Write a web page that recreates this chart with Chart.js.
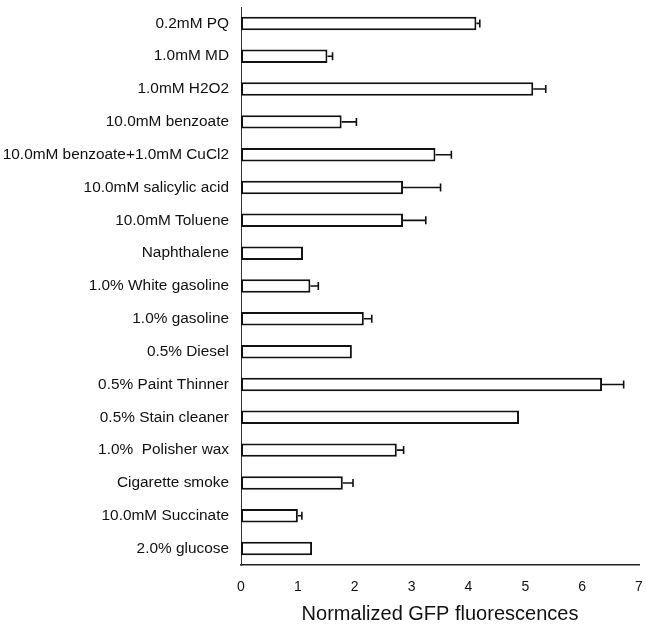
<!DOCTYPE html>
<html>
<head>
<meta charset="utf-8">
<script src="https://cdn.jsdelivr.net/npm/chart.js@4/dist/chart.umd.min.js"></script>
<style>
  html, body { margin: 0; padding: 0; background: #fff; }
  #wrap { width: 646px; height: 626px; }
</style>
</head>
<body>
<div id="wrap"><canvas id="chart" width="646" height="626"></canvas></div>
<script>
// categories, top to bottom
const labels = [
  '0.2mM PQ', '1.0mM MD', '1.0mM H2O2', '10.0mM benzoate',
  '10.0mM benzoate+1.0mM CuCl2', '10.0mM salicylic acid', '10.0mM Toluene',
  'Naphthalene', '1.0% White gasoline', '1.0% gasoline', '0.5% Diesel',
  '0.5% Paint Thinner', '0.5% Stain cleaner', '1.0%  Polisher wax',
  'Cigarette smoke', '10.0mM Succinate', '2.0% glucose'
];
const values = [4.14, 1.52, 5.14, 1.77, 3.42, 2.85, 2.85, 1.09, 1.22, 2.16, 1.95, 6.35, 4.89, 2.74, 1.79, 1.00, 1.25];
const errors = [0.06, 0.09, 0.22, 0.26, 0.28, 0.66, 0.40, 0.01, 0.14, 0.14, 0.02, 0.38, 0.02, 0.12, 0.18, 0.07, 0.02];
const xTicks = [0, 1, 2, 3, 4, 5, 6, 7];

// error bars: line from bar end to value+err with a cap
const errorBars = {
  id: 'errorBars',
  afterDatasetsDraw(chart) {
    const ctx = chart.ctx;
    const x = chart.scales.x;
    const meta = chart.getDatasetMeta(0);
    ctx.save();
    ctx.strokeStyle = '#111';
    ctx.lineWidth = 1.6;
    meta.data.forEach((bar, i) => {
      if (errors[i] < 0.03) return;
      const x0 = x.getPixelForValue(values[i]);
      const x1 = x.getPixelForValue(values[i] + errors[i]);
      ctx.beginPath();
      ctx.moveTo(x0, bar.y);
      ctx.lineTo(x1, bar.y);
      ctx.moveTo(x1, bar.y - 4);
      ctx.lineTo(x1, bar.y + 4);
      ctx.stroke();
    });
    ctx.restore();
  }
};

new Chart(document.getElementById('chart'), {
  type: 'bar',
  data: {
    labels: labels,
    datasets: [{
      data: values,
      backgroundColor: '#fff',
      borderColor: '#111',
      borderWidth: 2,
      borderSkipped: false,
      barPercentage: 0.41,
      categoryPercentage: 1
    }]
  },
  options: {
    indexAxis: 'y',
    responsive: false,
    animation: false,
    layout: { padding: { top: 7, right: 7, left: 0, bottom: 0 } },
    plugins: { legend: { display: false }, tooltip: { enabled: false } },
    scales: {
      x: {
        min: 0,
        max: 7,
        afterBuildTicks: s => { s.ticks = xTicks.map(v => ({ value: v })); },
        afterFit: s => { s.height = 61; s.paddingLeft = 0; s.paddingRight = 0; },
        grid: { display: false, drawTicks: false },
        border: { display: true, color: '#222', width: 1.5 },
        ticks: { padding: 14, color: '#111', font: { family: 'Liberation Sans', size: 14 } },
        title: {
          display: true,
          text: 'Normalized GFP fluorescences',
          color: '#111',
          font: { family: 'Liberation Sans', size: 20 },
          padding: { top: 0, bottom: 0 }
        }
      },
      y: {
        afterFit: s => { s.width = 241; s.paddingTop = 0; s.paddingBottom = 0; },
        grid: { display: false, drawTicks: false },
        border: { display: true, color: '#333', width: 1 },
        ticks: { padding: 12, color: '#111', font: { family: 'Liberation Sans', size: 15.4 } }
      }
    }
  },
  plugins: [errorBars]
});
</script>
</body>
</html>
